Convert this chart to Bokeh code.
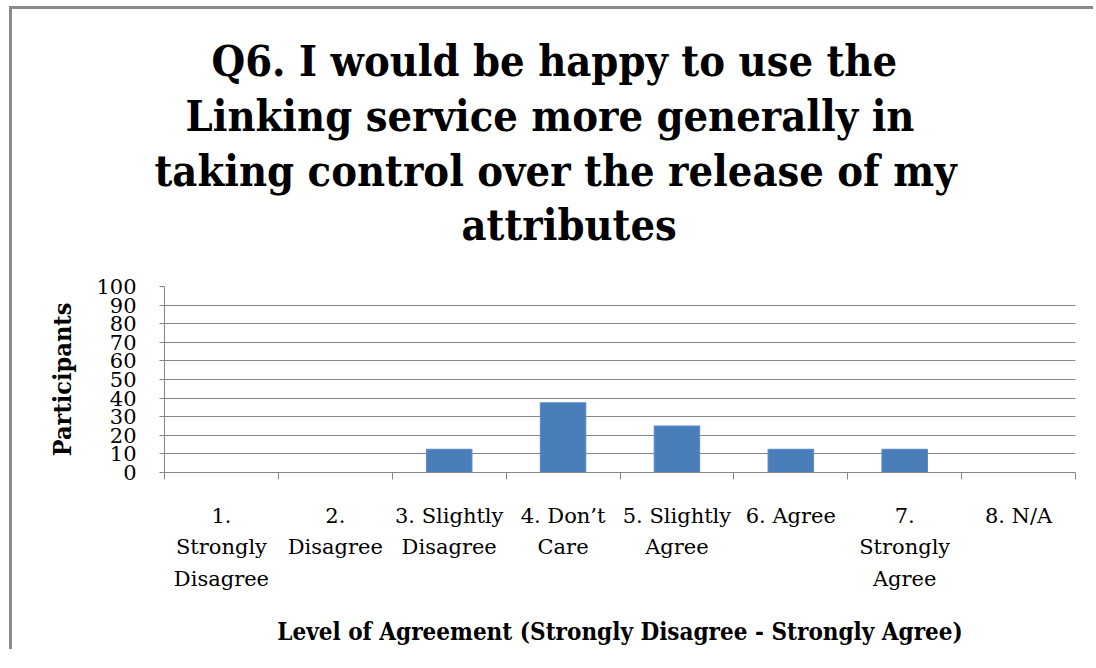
from bokeh.plotting import figure
from bokeh.models import Range1d, FixedTicker, Title
from bokeh.embed import file_html
from bokeh.resources import INLINE

categories = ["1.\nStrongly\nDisagree", "2.\nDisagree", "3. Slightly\nDisagree",
              "4. Don\u2019t\nCare", "5. Slightly\nAgree", "6. Agree",
              "7.\nStrongly\nAgree", "8. N/A"]
participants = [0, 0, 12.5, 37.5, 25, 12.5, 12.5, 0]
y_ticks = [0, 10, 20, 30, 40, 50, 60, 70, 80, 90, 100]
title_lines = ["Q6. I would be happy to use the",
               "Linking service more generally in",
               "taking control over the release of my",
               "attributes"]
x_title = "Level of Agreement (Strongly Disagree - Strongly Agree)"
y_title = "Participants"

# layout-only: horizontal pixel offsets of title lines from the frame's left edge
title_offsets = [47, 21, -10, 297]
title_standoffs = [3, 3, 3, 0]

SERIF = "DejaVu Serif"
SERIF_C = "DejaVu Serif Condensed"
GRID = "#868686"

n = len(categories)
centers = [i + 0.5 for i in range(n)]

p = figure(frame_width=911, frame_height=186,
           x_range=Range1d(0, n), y_range=Range1d(0, 100),
           output_backend="svg", toolbar_location=None, title=None,
           min_border_left=152, min_border_top=277, min_border_right=18,
           min_border_bottom=170,
           styles={"border-left": "3px solid #8a8a8a", "border-top": "3px solid #8a8a8a",
                   "margin-left": "9px", "margin-top": "6px"})
p.outline_line_color = None
p.background_fill_color = "white"
p.border_fill_color = "white"

p.vbar(x=centers, top=participants, width=0.4, fill_color="#4a7ebb",
       line_color="#5a8cc6", line_width=1)

# y axis
p.yaxis.ticker = FixedTicker(ticks=y_ticks)
p.yaxis.axis_line_color = GRID
p.yaxis.major_tick_line_color = GRID
p.yaxis.major_tick_out = 5
p.yaxis.major_tick_in = 0
p.yaxis.minor_tick_line_color = None
p.yaxis.major_label_text_font = SERIF
p.yaxis.major_label_text_font_size = "21px"
p.yaxis.major_label_text_color = "black"
p.yaxis.major_label_standoff = 23
p.yaxis.axis_label = y_title
p.yaxis.axis_label_text_font = SERIF_C
p.yaxis.axis_label_text_font_style = "bold"
p.yaxis.axis_label_text_font_size = "25px"
p.yaxis.axis_label_text_color = "black"
p.yaxis.axis_label_standoff = 16

p.ygrid.grid_line_color = GRID
p.ygrid.grid_line_width = 1
p.xgrid.grid_line_color = None

# x axis: labels at centers, tick marks at category boundaries
p.xaxis.ticker = FixedTicker(ticks=centers, minor_ticks=list(range(n + 1)))
p.xaxis.major_label_overrides = {c: lab for c, lab in zip(centers, categories)}
p.xaxis.axis_line_color = GRID
p.xaxis.major_tick_line_color = None
p.xaxis.major_tick_out = 0
p.xaxis.major_tick_in = 0
p.xaxis.minor_tick_line_color = GRID
p.xaxis.minor_tick_out = 7
p.xaxis.minor_tick_in = 0
p.xaxis.major_label_text_font = SERIF
p.xaxis.major_label_text_font_size = "21px"
p.xaxis.major_label_text_color = "black"
p.xaxis.major_label_text_line_height = 1.33
p.xaxis.major_label_standoff = 24
p.xaxis.axis_label = x_title
p.xaxis.axis_label_text_font = SERIF_C
p.xaxis.axis_label_text_font_style = "bold"
p.xaxis.axis_label_text_font_size = "24px"
p.xaxis.axis_label_text_color = "black"
p.xaxis.axis_label_standoff = 23

# spacer between the frame and the title block
p.add_layout(Title(text=" ", text_font_size="1px", standoff=34), "above")

# title lines, added bottom line first (later additions stack above)
for line, off, so in reversed(list(zip(title_lines, title_offsets, title_standoffs))):
    t = Title(text=line, align="left", offset=off, text_font=SERIF_C,
              text_font_style="bold", text_font_size="43px", text_color="black",
              standoff=so)
    p.add_layout(t, "above")

open("out.html", "w").write(file_html(p, INLINE))
